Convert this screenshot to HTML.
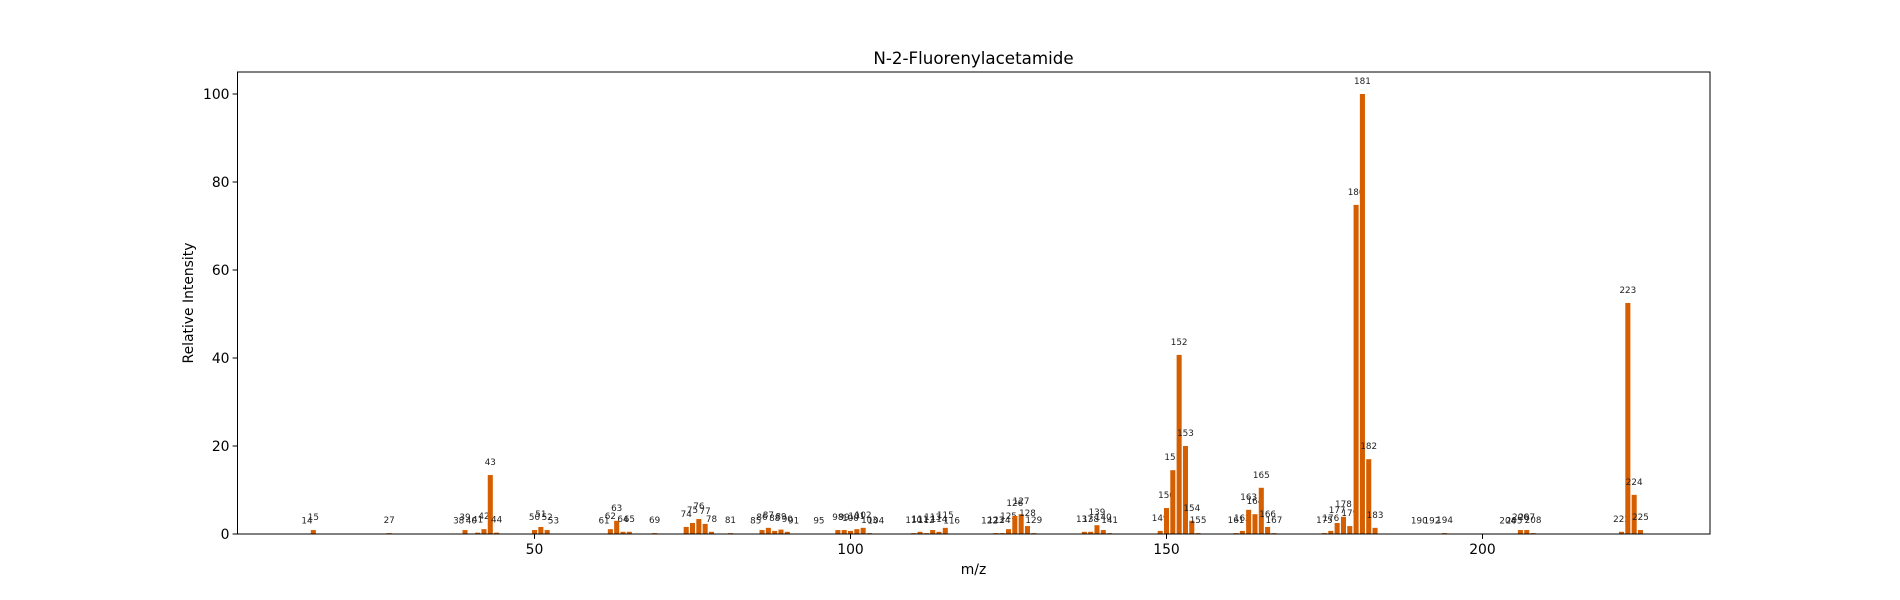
<!DOCTYPE html>
<html><head><meta charset="utf-8"><style>
body{margin:0;background:#fff;}
svg{display:block;font-family:"DejaVu Sans","Liberation Sans",sans-serif;}
</style></head><body>
<svg id="chart" width="1900" height="600" viewBox="0 0 1900 600">
<rect x="0" y="0" width="1900" height="600" fill="#fff"/>
<text x="973.5" y="64" text-anchor="middle" font-size="16.7" fill="#000">N-2-Fluorenylacetamide</text>
<g id="plot"></g>
<text x="973.5" y="574" text-anchor="middle" font-size="13.9" fill="#000">m/z</text>
<text transform="translate(193,303) rotate(-90)" text-anchor="middle" font-size="13.9" fill="#000">Relative Intensity</text>
</svg>
<script>
const mzValues=[14,15,27,38,39,40,41,42,43,44,50,51,52,53,61,62,63,64,65,69,74,75,76,77,78,81,85,86,87,88,89,90,91,95,98,99,100,101,102,103,104,110,111,112,113,114,115,116,122,123,124,125,126,127,128,129,137,138,139,140,141,149,150,151,152,153,154,155,161,162,163,164,165,166,167,175,176,177,178,179,180,181,182,183,190,192,194,204,205,206,207,208,222,223,224,225];
const intensities=[0.1,0.9,0.2,0.1,0.9,0.1,0.3,1.1,13.4,0.3,0.9,1.6,0.9,0.1,0.1,1.1,3.0,0.5,0.5,0.2,1.6,2.5,3.4,2.3,0.5,0.2,0.1,0.9,1.4,0.7,1.0,0.5,0.1,0.1,0.9,0.9,0.7,1.1,1.4,0.2,0.1,0.2,0.5,0.2,0.9,0.5,1.4,0.1,0.1,0.2,0.2,1.1,4.1,4.5,1.8,0.2,0.5,0.5,2.0,0.9,0.2,0.7,5.9,14.5,40.7,20.0,3.0,0.2,0.2,0.7,5.5,4.5,10.5,1.6,0.2,0.2,0.7,2.5,3.9,1.8,74.8,100,17.0,1.4,0.1,0.1,0.2,0.1,0.1,0.9,0.9,0.2,0.5,52.5,8.9,0.9];
const xTicks=[50,100,150,200];
const yTicks=[0,20,40,60,80,100];

const NS="http://www.w3.org/2000/svg";
const L=237.5,R=1710,T=72,B=534;
const xMin=3.0,xMax=236.0,yMin=0,yMax=105;
function xs(v){return L+(v-xMin)/(xMax-xMin)*(R-L);}
function ys(v){return B-(v-yMin)/(yMax-yMin)*(B-T);}
const g=document.getElementById('plot');
function mk(tag,attrs){const e=document.createElementNS(NS,tag);for(const k in attrs)e.setAttribute(k,attrs[k]);g.appendChild(e);return e;}

mzValues.forEach((m,i)=>{
  const v=intensities[i];
  const x0=xs(m-0.4),x1=xs(m+0.4);
  const r=mk('rect',{x:x0,y:ys(v),width:x1-x0,height:B-ys(v),fill:'#d55e00'});
  
  
  const t=mk('text',{x:xs(m),y:ys(v)-10,'text-anchor':'middle','font-size':'8.8',fill:'#222'});
  t.textContent=String(m);
  
  
});

const frame=mk('rect',{x:L,y:T,width:R-L,height:B-T,fill:'none',stroke:'#000','stroke-width':'1'});



xTicks.forEach(v=>{
  const x=xs(v);
  const l=mk('line',{x1:x,x2:x,y1:B,y2:B+4.9,stroke:'#000','stroke-width':'1'});
  
  
  const t=mk('text',{x:x,y:B+20,'text-anchor':'middle','font-size':'13.9',fill:'#000'});
  t.textContent=String(v);
  
  
});
yTicks.forEach(v=>{
  const y=ys(v);
  const l=mk('line',{x1:L-4.9,x2:L,y1:y,y2:y,stroke:'#000','stroke-width':'1'});
  
  
  const t=mk('text',{x:L-8,y:y+5,'text-anchor':'end','font-size':'13.9',fill:'#000'});
  t.textContent=String(v);
  
  
});
</script>
</body></html>
